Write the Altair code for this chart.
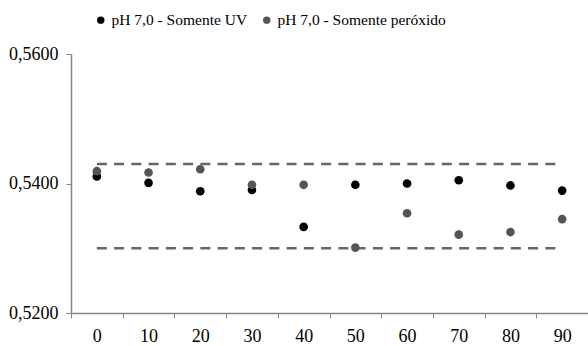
import altair as alt
import pandas as pd

categories = ["0", "10", "20", "30", "40", "50", "60", "70", "80", "90"]
series_names = ["pH 7,0 - Somente UV", "pH 7,0 - Somente peróxido"]
uv_values = [0.5411, 0.5401, 0.5388, 0.5390, 0.5333, 0.5398, 0.5400, 0.5405, 0.5397, 0.5389]
perox_values = [0.5419, 0.5417, 0.5422, 0.5398, 0.5398, 0.5301, 0.5354, 0.5321, 0.5325, 0.5345]
upper_limit = 0.5430
lower_limit = 0.5300
y_ticks = [0.52, 0.54, 0.56]

rows = []
for c, v in zip(categories, uv_values):
    rows.append({"t": c, "v": v, "s": series_names[0], "o": 0})
for c, v in zip(categories, perox_values):
    rows.append({"t": c, "v": v, "s": series_names[1], "o": 1})
pts = pd.DataFrame(rows)

lim_rows = []
for lim, name in [(upper_limit, "sup"), (lower_limit, "inf")]:
    for c in [categories[0], categories[-1]]:
        lim_rows.append({"t": c, "v": lim, "g": name})
lims = pd.DataFrame(lim_rows)

FONT = "Liberation Serif"

x_enc = alt.X(
    "t:N",
    sort=categories,
    scale=alt.Scale(domain=categories, paddingInner=0, paddingOuter=0),
    axis=alt.Axis(
        title=None, labelAngle=0, tickBand="extent", domainColor="#868686",
        tickColor="#868686", tickSize=5, labelFont=FONT, labelFontSize=18,
        labelColor="#000000", labelPadding=9, domainWidth=1.5, tickWidth=1,
    ),
)
y_scale = alt.Scale(domain=[0.52, 0.56], nice=False, zero=False)
y_axis = alt.Axis(
    title=None, values=y_ticks, labelExpr="replace(format(datum.value, '.4f'), '.', ',')",
    grid=False, domainColor="#868686", tickColor="#868686", tickSize=5,
    labelFont=FONT, labelFontSize=18, labelColor="#000000", labelPadding=8,
    domainWidth=1.5,
)

lines = alt.Chart(lims).mark_line(
    color="#666666", strokeWidth=2.5, strokeDash=[10, 7.25]
).encode(
    x=x_enc,
    y=alt.Y("v:Q", scale=y_scale, axis=y_axis),
    detail="g:N",
)

points = alt.Chart(pts).mark_circle(size=75, opacity=1).encode(
    x=x_enc,
    y=alt.Y("v:Q", scale=y_scale, axis=y_axis),
    color=alt.Color(
        "s:N",
        scale=alt.Scale(domain=series_names, range=["#000000", "#555555"]),
        legend=alt.Legend(
            title=None, orient="none", direction="horizontal", legendX=22,
            legendY=-42, symbolType="circle", symbolSize=55, labelFont=FONT,
            labelFontSize=15.5, labelColor="#000000", columnPadding=11,
            labelOffset=3, symbolStrokeWidth=0, labelLimit=400,
        ),
    ),
    order=alt.Order("o:Q"),
)

chart = alt.layer(lines, points).properties(
    width=517, height=259,
    autosize=alt.AutoSizeParams(type="none"),
    padding={"left": 71, "top": 54, "right": 0, "bottom": 33},
    background="#ffffff",
).configure(font=FONT).configure_axis(labelFont=FONT).configure_legend(
    labelFont=FONT
).configure_view(stroke=None)

chart.save("out.html", embed_options={"renderer": "svg", "actions": False})
